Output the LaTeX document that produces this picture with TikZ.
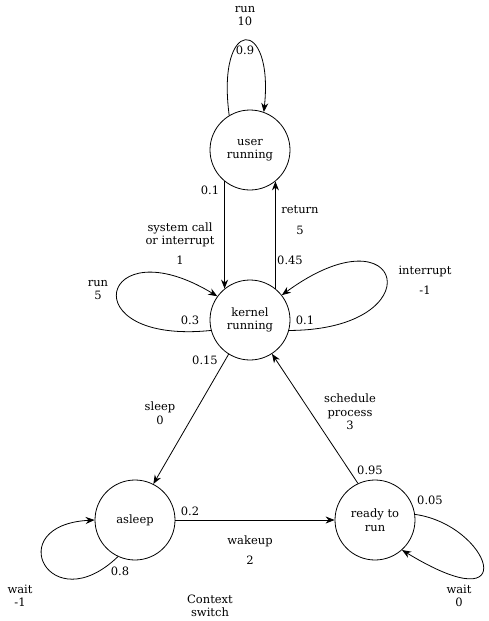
\documentclass[tikz,border=0pt]{standalone}
\usepackage{fontspec}
\setmainfont{DejaVu Serif}
\usetikzlibrary{arrows.meta}

\tikzset{
  state/.style={draw, circle, inner sep=0pt, minimum size=80pt, align=center},
  lbl/.style={inner sep=0pt, align=center},
  trans/.style={-{Stealth[length=9pt,width=7pt]}}
}

\begin{document}
\begin{tikzpicture}[x=1pt,y=-1pt,line width=0.8pt,font=\fontsize{11.5}{13.5}\selectfont]
  \useasboundingbox (0,0) rectangle (488,621);

  \node[state] (user) at (250,150) {user\\running};
  \node[state] (kernel) at (250,320) {kernel\\running};
  \node[state] (asleep) at (135,520) {asleep};
  \node[state] (ready) at (375,520) {ready to\\run};

  % transitions between states
  \draw[trans] (user.231) -- (kernel.129);
  \draw[trans] (kernel.51) -- (user.309);
  \draw[trans] (kernel.238) -- (asleep.63);
  \draw[trans] (ready.115) -- (kernel.303);
  \draw[trans] (asleep.east) -- (ready.west);

  % self loops
  \draw[trans] (user.121) .. controls (216,16) and (274,16) .. (user.70);
  \draw[trans] (kernel.195) .. controls (70,345) and (100,225) .. (kernel.144);
  \draw[trans] (kernel.345) .. controls (435,330) and (405,205) .. (kernel.38);
  \draw[trans] (asleep.245) .. controls (50,622) and (0,525) .. (asleep.180);
  \draw[trans] (ready.8) .. controls (490,525) and (525,625) .. (ready.312);

  % labels
  \node[lbl] (runuser) at (245,16) {run\\10};
  \node[lbl] (puser) at (245,50) {0.9};
  \node[lbl] (pcall) at (210,190) {0.1};
  \node[lbl] (syscall) at (180,235) {system call\\or interrupt};
  \node[lbl] (wcall) at (180,260) {1};
  \node[lbl] (ret) at (300,210) {return};
  \node[lbl] (wret) at (300,230) {5};
  \node[lbl] (pret) at (290,260) {0.45};
  \node[lbl] (runkernel) at (98,290) {run\\5};
  \node[lbl] (pkernel) at (190,320) {0.3};
  \node[lbl] (pintr) at (305,320) {0.1};
  \node[lbl] (intr) at (425,271) {interrupt};
  \node[lbl] (wintr) at (425,290) {-1};
  \node[lbl] (psleep) at (205,360) {0.15};
  \node[lbl] (sleep) at (160,413) {sleep\\0};
  \node[lbl] (sched) at (350,412) {schedule\\process\\3};
  \node[lbl] (psched) at (370,470) {0.95};
  \node[lbl] (pwake) at (190,511) {0.2};
  \node[lbl] (pready) at (430,500) {0.05};
  \node[lbl] (wake) at (250,541) {wakeup};
  \node[lbl] (wwake) at (250,560) {2};
  \node[lbl] (pasleep) at (120,571) {0.8};
  \node[lbl] (waitasleep) at (20,596) {wait\\-1};
  \node[lbl] (waitready) at (459,596) {wait\\0};
  \node[lbl] (ctx) at (210,606) {Context\\switch};
\end{tikzpicture}
\end{document}
